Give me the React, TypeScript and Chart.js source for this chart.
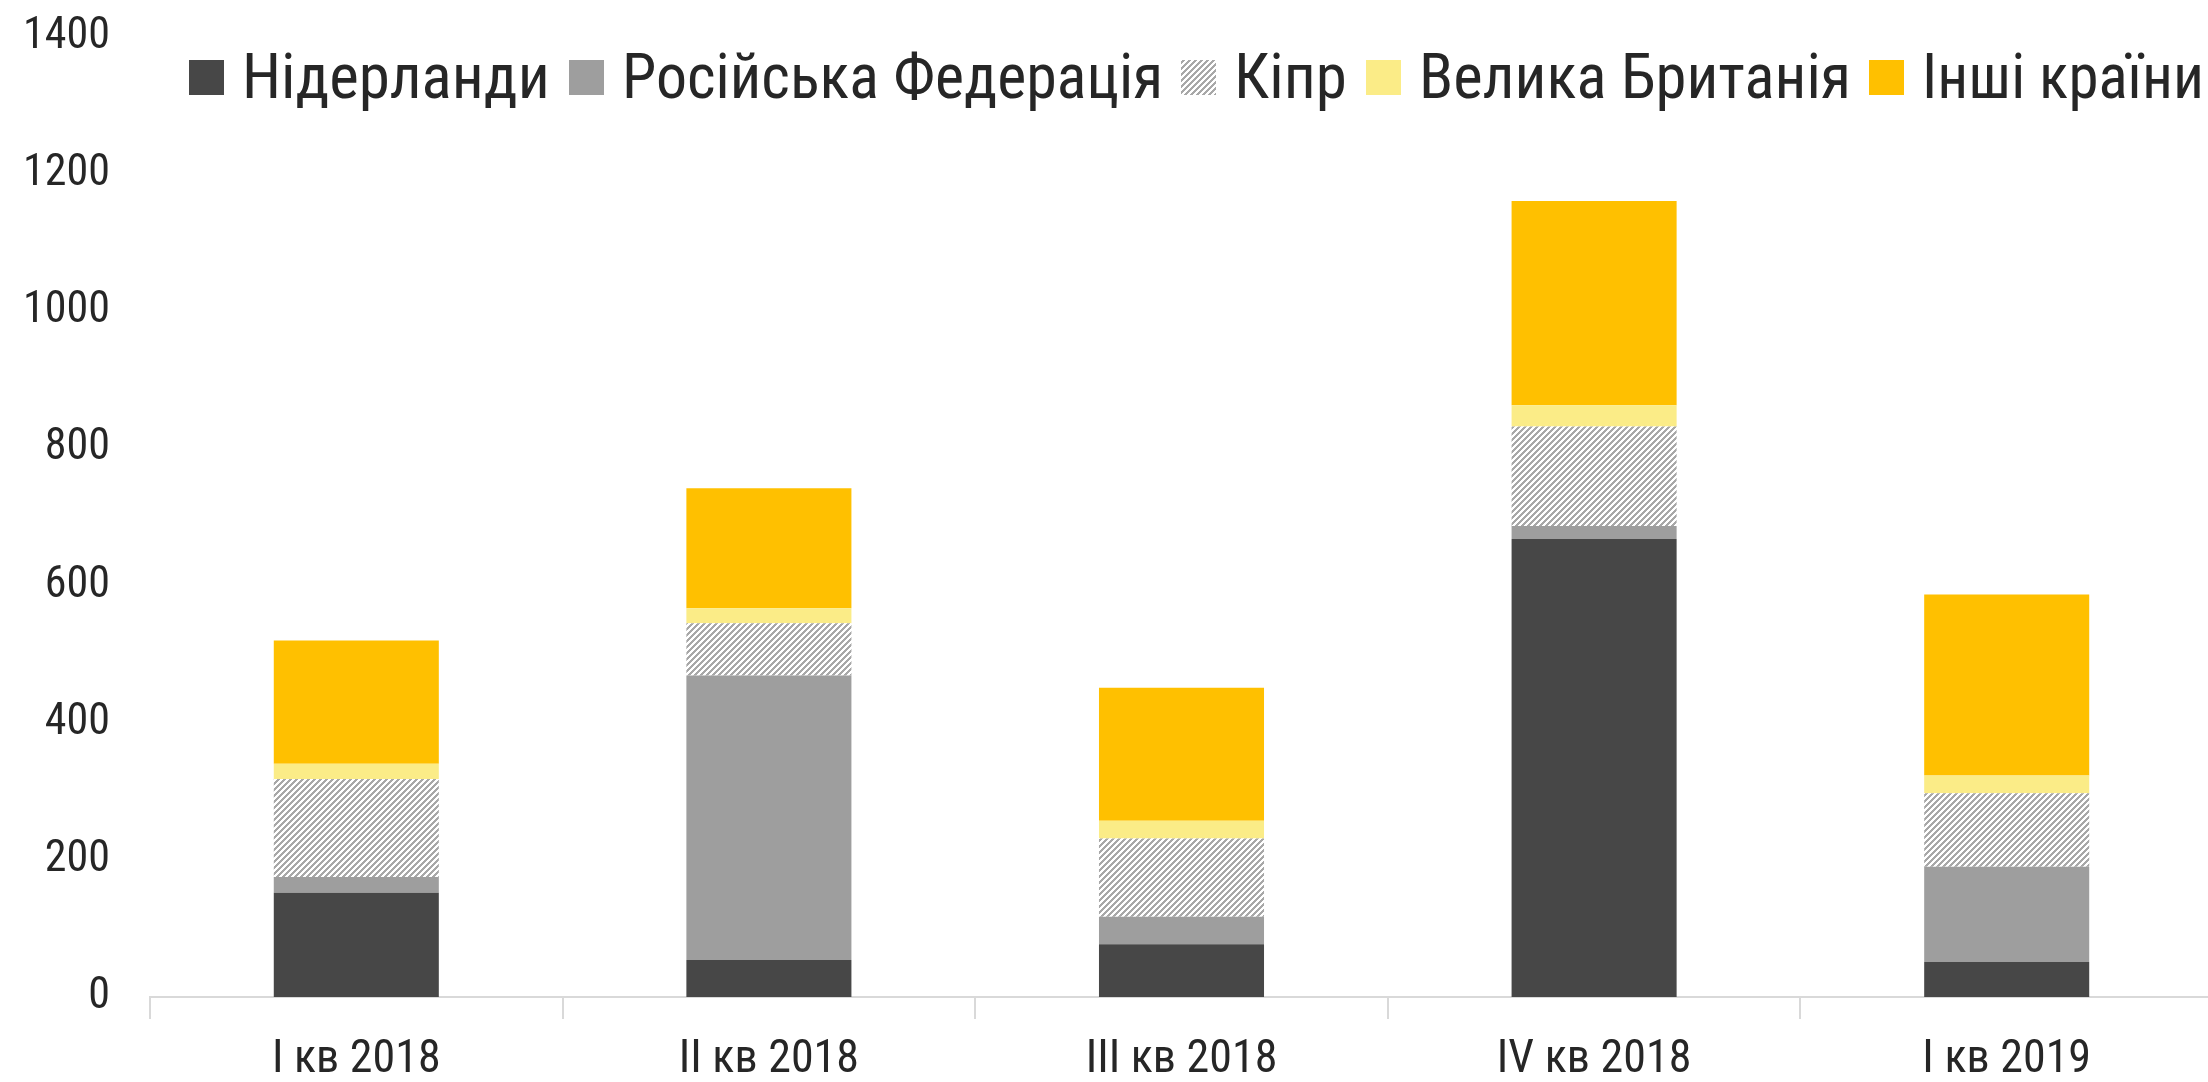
import React, { useEffect, useRef } from "react";
import { Chart, registerables } from "chart.js";

Chart.register(...registerables);

const categories = ["I кв 2018", "II кв 2018", "III кв 2018", "IV кв 2018", "I кв 2019"];
const seriesLabels = ["Нідерланди", "Російська Федерація", "Кіпр", "Велика Британія", "Інші країни"];
const netherlands = [152, 54, 77, 668, 51];
const russia = [23, 415, 40, 19, 139];
const cyprus = [143, 76, 114, 145, 107];
const uk = [22, 22, 26, 31, 26];
const otherCountries = [180, 175, 194, 298, 264];
const yTicks = [0, 200, 400, 600, 800, 1000, 1200, 1400];

// legend layout (left edge of each legend swatch, px)
const legendSwatchX = [189, 569, 1181, 1366, 1869];
const legendRightEdge = 2204;

const TEXT = "#262626";

function pickFont(): { family: string; stretch: string } {
  const c = document.createElement("canvas").getContext("2d");
  const families = ["'Open Sans'", "'Noto Sans'", "'DejaVu Sans'", "Lato", "Roboto"];
  const stretches = ["extra-condensed", "condensed", "semi-condensed", "normal"];
  let best = { family: "'DejaVu Sans Condensed', sans-serif", stretch: "normal" };
  let bestScore = Infinity;
  if (!c) return best;
  for (const f of families) {
    for (const s of stretches) {
      c.font = `${s} 100px ${f}`;
      const w = c.measureText("0123456789").width / 1000;
      const score = Math.abs(w - 0.47);
      if (score < bestScore - 0.005) {
        bestScore = score;
        best = { family: f + ", sans-serif", stretch: s };
      }
    }
  }
  return best;
}

function makeHatch(): CanvasPattern | string {
  const tile = document.createElement("canvas");
  const n = 6;
  tile.width = n;
  tile.height = n;
  const c = tile.getContext("2d");
  if (!c) return "#a6a6a6";
  c.fillStyle = "#ffffff";
  c.fillRect(0, 0, n, n);
  c.fillStyle = "#a8a8a8";
  for (let x = 0; x < n; x++) {
    for (let y = 0; y < n; y++) {
      if ((x + y) % n < 3) c.fillRect(x, y, 1, 1);
    }
  }
  const main = document.createElement("canvas").getContext("2d");
  const p = main ? main.createPattern(tile, "repeat") : null;
  return p || "#a6a6a6";
}

export default function App() {
  const ref = useRef<HTMLCanvasElement | null>(null);

  useEffect(() => {
    if (!ref.current) return;
    const font = pickFont();
    const hatch = makeHatch();
    const colors: any[] = ["#474747", "#9e9e9e", hatch, "#fbec87", "#ffc000"];
    const values = [netherlands, russia, cyprus, uk, otherCountries];

    const legendPlugin = {
      id: "customLegend",
      afterDraw(chart: any) {
        const ctx = chart.ctx as CanvasRenderingContext2D;
        ctx.save();
        ctx.font = `${font.stretch} 63px ${font.family}`;
        ctx.textBaseline = "alphabetic";
        ctx.textAlign = "left";
        const n = chart.data.datasets.length;
        chart.data.datasets.forEach((ds: any, i: number) => {
          const x = legendSwatchX[i];
          const tx = x + 53;
          const limit = (i < n - 1 ? legendSwatchX[i + 1] - 18 : legendRightEdge) - tx;
          ctx.fillStyle = ds.backgroundColor;
          ctx.fillRect(x, 60, 35, 35);
          ctx.fillStyle = TEXT;
          const w = ctx.measureText(ds.label).width;
          if (w > limit) ctx.fillText(ds.label, tx, 98, limit);
          else ctx.fillText(ds.label, tx, 98);
        });
        ctx.restore();
      },
    };

    const chart = new Chart(ref.current, {
      type: "bar",
      data: {
        labels: categories,
        datasets: seriesLabels.map((label, i) => ({
          label,
          data: values[i],
          backgroundColor: colors[i],
          borderWidth: 0,
          categoryPercentage: 1,
          barPercentage: 0.4,
        })),
      },
      options: {
        responsive: false,
        animation: false,
        devicePixelRatio: 1,
        layout: { padding: { left: 0, right: 0, top: 37, bottom: 0 } },
        plugins: {
          legend: { display: false },
          tooltip: { enabled: false },
        },
        scales: {
          x: {
            stacked: true,
            offset: true,
            grid: {
              display: true,
              drawOnChartArea: false,
              drawTicks: true,
              tickLength: 22,
              color: "#d9d9d9",
              lineWidth: 2,
              offset: true,
            },
            border: { display: true, color: "#d9d9d9", width: 2 },
            ticks: {
              color: TEXT,
              font: { family: font.family, size: 46, weight: font.stretch as any },
              padding: 14,
              maxRotation: 0,
            },
            afterFit: (scale: any) => {
              scale.height = 85;
              scale.paddingLeft = 0;
              scale.paddingRight = 0;
            },
          },
          y: {
            stacked: true,
            min: 0,
            max: 1400,
            grid: { display: false, drawTicks: false },
            border: { display: false },
            afterBuildTicks: (scale: any) => {
              scale.ticks = yTicks.map((v) => ({ value: v }));
            },
            ticks: {
              color: TEXT,
              font: { family: font.family, size: 44, weight: font.stretch as any },
              padding: 40,
              callback: (v: any) => String(v),
            },
            afterFit: (scale: any) => {
              scale.width = 150;
              scale.paddingTop = 0;
              scale.paddingBottom = 0;
            },
          },
        },
      },
      plugins: [legendPlugin],
    });

    return () => chart.destroy();
  }, []);

  return (
    <div style={{ position: "fixed", left: 0, top: 0, width: 2208, height: 1082, overflow: "hidden", background: "#ffffff" }}>
      <canvas ref={ref} width={2213} height={1082} style={{ display: "block" }} />
    </div>
  );
}
